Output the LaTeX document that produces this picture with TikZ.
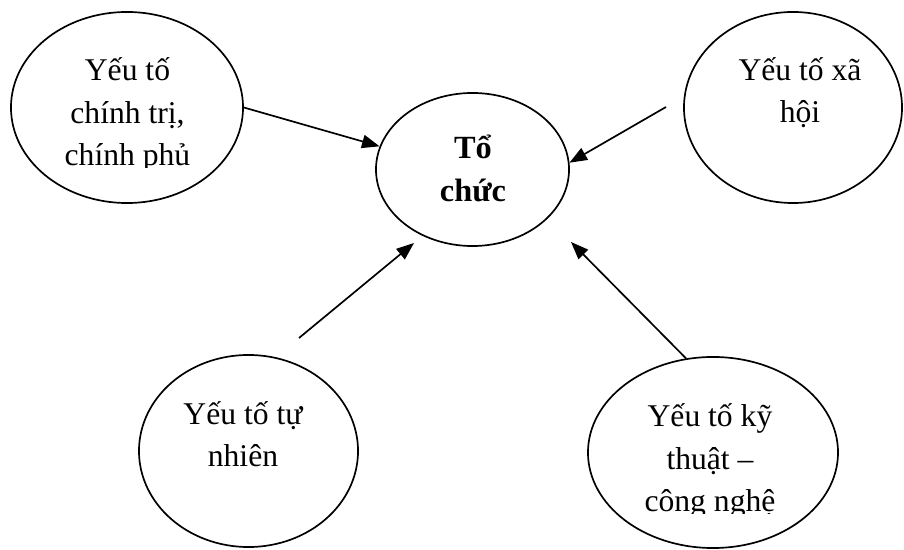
\documentclass[tikz,border=0pt]{standalone}
\usepackage{fontspec}
\setmainfont{Liberation Serif}
\usetikzlibrary{arrows.meta,positioning,shapes.geometric}

\begin{document}
\begin{tikzpicture}[x=0.025cm, y=-0.025cm,
    factor/.style={draw, ellipse, line width=1.2pt, inner sep=0pt},
    factortext/.style={align=center, anchor=base, inner sep=0pt,
        font=\fontsize{22.5}{30.5}\selectfont},
    link/.style={line width=1.2pt, -{Triangle[length=12.5pt,width=9.5pt]}}]
    \useasboundingbox (0,0) rectangle (904,550);

    % Ellipses
    \node[factor, minimum width=5.8cm, minimum height=4.775cm] (chinhtri) at (127,107.5) {};
    \node[factor, minimum width=4.825cm, minimum height=3.825cm] (tochuc) at (472.5,169.5) {};
    \node[factor, minimum width=5.45cm, minimum height=4.775cm] (xahoi) at (793,107.5) {};
    \node[factor, minimum width=5.475cm, minimum height=4.8cm] (tunhien) at (248.5,451) {};
    \node[factor, minimum width=6.25cm, minimum height=4.775cm] (kythuat) at (713,452.5) {};

    % Texts (anchored at the baseline of the last line)
    \begin{scope}
        \clip (0,0) rectangle (904,167.5);
        \node[factortext] (chinhtri-txt) at (127.5,166) {Yếu tố\\chính trị,\\chính phủ};
    \end{scope}
    \node[factortext, font=\fontsize{23}{31}\selectfont\bfseries] (tochuc-txt) at (473,202) {Tổ\\chức};
    \node[factortext] (xahoi-txt) at (800,123) {Yếu tố xã\\hội};
    \node[factortext] (tunhien-txt) at (243,467) {Yếu tố tự\\nhiên};
    \begin{scope}
        \clip (0,0) rectangle (904,513.5);
        \node[factortext] (kythuat-txt) at (710,512) {Yếu tố kỹ\\thuật --\\công nghệ};
    \end{scope}

    % Free ends of the arrows
    \coordinate (xahoi-end) at (666,107);
    \coordinate (tunhien-end) at (299,338);
    \coordinate (tochuc-sw) at (414,243);
    \coordinate (tochuc-se) at (571,242);

    % Arrows
    \draw[link] (chinhtri.east) -- (tochuc.166);
    \draw[link] (xahoi-end) -- (tochuc.4);
    \draw[link] (tunhien-end) -- (tochuc-sw);
    \draw[link] (kythuat.106) -- (tochuc-se);
\end{tikzpicture}
\end{document}
